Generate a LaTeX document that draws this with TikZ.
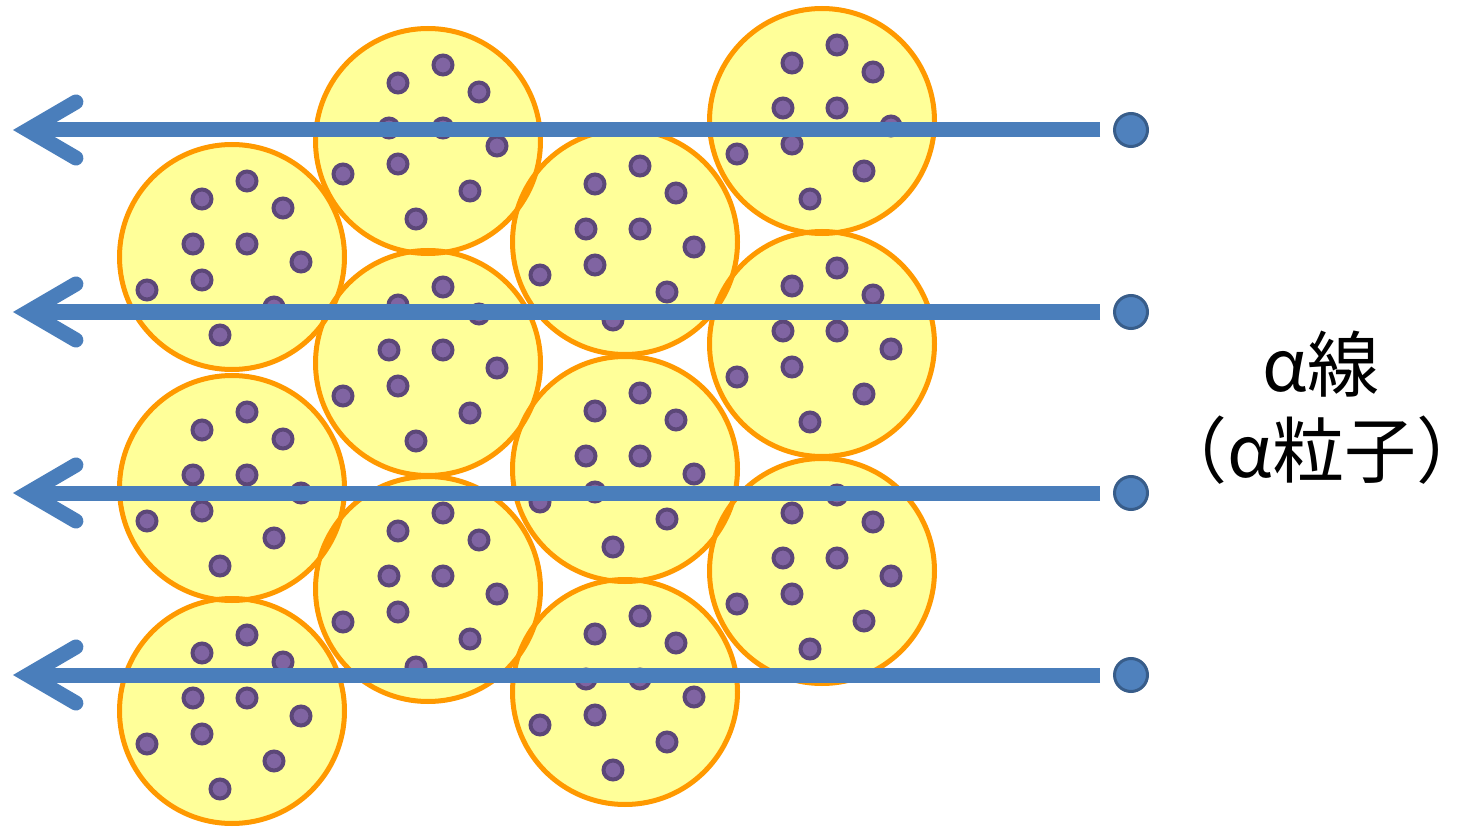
\documentclass[tikz,border=0pt]{standalone}
\usepackage{fontspec}
\newfontfamily\jpfont{Noto Sans CJK JP}
\usetikzlibrary{arrows.meta}
\definecolor{atomfill}{HTML}{FFFF99}
\definecolor{atomline}{HTML}{FF9900}
\definecolor{efill}{HTML}{8064A2}
\definecolor{eline}{HTML}{5C4778}
\definecolor{rayblue}{HTML}{4A7EBB}
\definecolor{srcfill}{HTML}{4F81BD}
\definecolor{srcline}{HTML}{385D8A}
\begin{document}
\begin{tikzpicture}[x=1pt,y=-1pt,
  atombody/.style={circle, minimum size=225pt, inner sep=0pt, fill=atomfill},
  atomring/.style={circle, minimum size=225pt, inner sep=0pt, draw=atomline, line width=5pt},
  electron/.style={circle, minimum size=19pt, inner sep=0pt, fill=efill, draw=eline, line width=4pt},
  source/.style={circle, minimum size=33pt, inner sep=0pt, fill=srcfill, draw=srcline, line width=3pt},
  ray/.style={draw=rayblue, line width=15pt, shorten <=13pt,
    -{Straight Barb[length=48pt, width=56pt, line cap=round, line join=miter]}},
  label/.style={font=\jpfont\fontsize{72}{86}\selectfont, anchor=base, inner sep=2pt}]
\useasboundingbox (0,0) rectangle (1460,829);
% atoms
\foreach \n/\cx/\cy in {1/232/257, 2/232/488, 3/232/711,
                        4/428/141, 5/428/363, 6/428/589,
                        7/625/242, 8/625/469, 9/625/692,
                        10/822/121, 11/822/344, 12/822/571}
  {\node[atombody] (a\n) at (\cx,\cy) {};}
\foreach \n in {1,...,12}
  {\node[atomring] (r\n) at (a\n.center) {};}
% electrons
\foreach \n in {1,...,12}
  {\foreach \dx/\dy [count=\m] in {-30/-58, 15/-76, 51/-49, -39/-13, 15/-13,
                        69/5, -85/33, -30/23, 42/50, -12/78}
    {\node[electron] (e\n-\m) at ([shift={(\dx,\dy)}]a\n.center) {};}}
% alpha rays
\foreach \k/\y in {1/130, 2/312, 3/493, 4/675}
  {\node[source] (s\k) at (1131,\y) {};
   \coordinate (t\k) at (13,\y);
   \draw[ray] (s\k) -- (t\k);}
% label
\node[label] (l1) at (1321,391) {α線};
\node[label] (l2) at (1322,477) {（α粒子）};
\end{tikzpicture}
\end{document}
